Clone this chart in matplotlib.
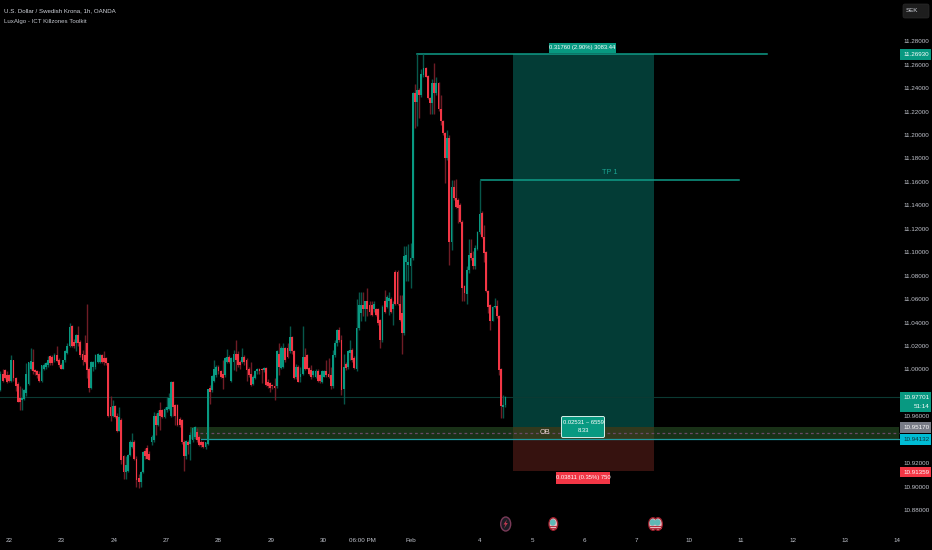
import numpy as np
import matplotlib
matplotlib.use("Agg")
import matplotlib.pyplot as plt
from matplotlib.patches import Rectangle, FancyBboxPatch, Ellipse, Polygon

plt.rcParams['font.family'] = ['Liberation Sans', 'DejaVu Sans']

opens = [10.982,10.996,10.999,10.995,10.995,10.990,11.008,10.992,10.987,10.975,
10.973,10.974,10.979,10.987,11.000,11.006,10.999,10.998,10.996,10.990,
11.000,11.002,11.003,11.011,11.010,11.008,11.012,11.008,11.003,11.000,
11.008,11.014,11.020,11.037,11.023,11.022,11.029,11.023,11.013,11.012,
11.022,11.000,10.984,11.002,11.002,11.006,11.006,11.012,11.009,11.009,
11.005,10.967,10.960,10.968,10.960,10.947,10.956,10.925,10.912,10.913,
10.926,10.933,10.937,10.923,10.907,10.903,10.912,10.930,10.932,10.927,
10.937,10.939,10.960,10.952,10.965,10.965,10.959,10.965,10.966,10.960,
10.989,10.969,10.969,10.957,10.956,10.937,10.925,10.937,10.936,10.939,
10.942,10.946,10.942,10.937,10.937,10.933,10.936,10.984,10.982,10.990,
10.995,11.002,10.998,10.996,10.995,11.006,11.010,10.990,
11.006,11.013,11.013,11.006,11.006,11.010,11.008,11.000,10.996,10.987,
10.992,10.998,11.000,11.000,10.999,11.001,10.989,10.988,10.986,10.985,
10.985,11.013,11.001,11.002,11.018,11.018,11.015,11.027,11.015,10.993,
11.002,10.993,10.996,11.010,11.012,11.001,10.999,10.995,10.993,10.998,
10.995,10.989,10.993,10.998,10.996,10.995,10.985,11.012,11.022,11.033,
11.025,10.983,11.004,11.002,11.014,11.016,11.009,11.000,11.035,11.048,
11.055,11.051,11.058,11.055,11.055,11.051,11.051,11.051,11.042,11.025,
11.058,11.053,11.058,11.060,11.051,11.083,11.083,11.056,11.048,11.031,
11.092,11.089,11.088,
11.095,11.236,11.229,11.239,11.235,11.252,11.258,11.251,11.232,11.228,
11.245,11.236,11.245,11.223,11.212,11.202,11.181,
11.198,11.109,11.156,11.146,11.145,11.140,11.126,11.071,11.064,11.085,
11.099,11.095,11.088,11.103,11.117,11.134,11.113,11.100,11.067,11.055,
11.041,11.053,11.054,11.045,11.000,10.967,10.969]

highs = [10.998,11.000,11.000,10.998,10.996,11.012,11.008,10.993,10.989,10.985,
10.984,10.983,11.005,11.006,11.018,11.017,11.000,10.999,10.998,11.003,
11.005,11.006,11.011,11.012,11.012,11.014,11.020,11.009,11.005,11.008,
11.016,11.022,11.039,11.038,11.026,11.030,11.037,11.025,11.016,11.029,
11.056,11.002,11.007,11.007,11.013,11.014,11.013,11.013,11.015,11.010,
11.005,10.977,10.973,10.969,10.962,10.967,10.958,10.926,10.925,10.927,
10.939,10.945,10.939,10.925,10.910,10.913,10.930,10.932,10.935,10.930,
10.943,10.963,10.962,10.965,10.972,10.966,10.967,10.976,10.979,10.990,
10.990,10.970,10.970,10.959,10.957,10.939,10.939,10.939,10.946,10.950,
10.951,10.949,10.943,10.939,10.938,10.937,10.983,10.986,10.995,11.008,
11.003,11.003,10.999,11.008,11.010,11.017,11.012,11.010,
11.016,11.025,11.015,11.008,11.018,11.012,11.009,11.002,11.006,10.995,
10.999,11.001,11.001,11.001,11.002,11.002,10.991,10.989,10.987,10.992,
11.016,11.022,11.020,11.022,11.019,11.022,11.037,11.028,11.016,11.004,
11.003,11.002,11.037,11.018,11.013,11.002,11.003,10.999,11.000,11.000,
10.996,10.999,10.999,11.008,11.009,11.002,11.016,11.025,11.034,11.036,
11.029,11.013,11.006,11.016,11.025,11.018,11.011,11.060,11.066,11.066,
11.066,11.058,11.069,11.058,11.058,11.058,11.052,11.052,11.043,11.055,
11.068,11.063,11.066,11.062,11.058,11.085,11.085,11.063,11.063,11.105,
11.105,11.107,11.108,
11.237,11.244,11.270,11.241,11.257,11.270,11.259,11.252,11.233,11.248,
11.262,11.250,11.246,11.235,11.213,11.203,11.205,
11.200,11.162,11.162,11.163,11.146,11.142,11.128,11.072,11.088,11.111,
11.111,11.101,11.106,11.118,11.162,11.135,11.123,11.101,11.068,11.056,
11.054,11.061,11.059,11.046,11.001,10.978,10.977]

lows = [10.981,10.989,10.991,10.988,10.989,10.989,10.990,10.981,10.972,10.965,
10.965,10.973,10.977,10.986,10.999,10.996,10.995,10.992,10.989,10.989,
10.999,11.000,11.002,11.003,11.003,11.006,11.006,11.002,11.000,11.000,
11.006,11.013,11.019,11.019,11.018,11.015,11.020,11.010,11.003,11.005,
10.992,10.980,10.983,10.998,11.000,11.005,11.005,11.005,11.003,11.003,
10.959,10.955,10.959,10.958,10.946,10.947,10.919,10.906,10.906,10.912,
10.925,10.932,10.922,10.899,10.898,10.899,10.911,10.923,10.923,10.922,
10.935,10.937,10.943,10.951,10.948,10.958,10.958,10.963,10.965,10.959,
10.960,10.952,10.951,10.950,10.936,10.913,10.923,10.927,10.922,10.937,
10.940,10.937,10.934,10.933,10.932,10.931,10.935,10.970,10.980,10.989,
10.993,10.996,10.992,10.983,10.993,11.005,11.005,10.989,
10.999,10.998,11.002,11.000,11.005,11.003,10.990,10.993,10.985,10.986,
10.991,10.996,10.996,10.988,10.997,10.985,10.984,10.980,10.983,10.973,
10.984,10.995,11.000,11.001,11.006,11.009,11.014,11.013,10.991,10.991,
10.989,10.989,10.995,10.999,11.000,10.995,10.991,10.993,10.992,10.989,
10.988,10.988,10.993,10.993,10.992,10.983,10.984,11.010,11.020,11.023,
10.978,10.970,10.999,11.000,11.008,11.006,11.000,10.998,11.033,11.041,
11.045,11.041,11.045,11.046,11.045,11.049,11.045,11.038,11.018,11.023,
11.048,11.052,11.046,11.048,11.038,11.055,11.055,11.041,11.013,11.029,
11.075,11.075,11.069,
11.093,11.206,11.208,11.215,11.233,11.250,11.250,11.231,11.218,11.218,
11.218,11.235,11.221,11.209,11.200,11.159,11.179,
11.089,11.102,11.145,11.138,11.125,11.125,11.058,11.058,11.056,11.082,
11.093,11.086,11.086,11.102,11.116,11.112,11.092,11.066,11.048,11.033,
11.041,11.052,11.044,10.995,10.958,10.958,10.967]

closes = [10.996,10.990,10.992,10.989,10.990,11.008,10.992,10.985,10.972,10.972,
10.975,10.982,10.996,11.006,11.007,10.998,10.997,10.995,10.990,11.003,
11.003,11.005,11.008,11.005,11.005,11.012,11.007,11.003,11.000,11.008,
11.015,11.020,11.036,11.020,11.020,11.029,11.022,11.012,11.008,11.006,
10.999,10.984,11.006,11.006,11.012,11.013,11.012,11.006,11.006,11.005,
10.960,10.960,10.968,10.959,10.947,10.959,10.922,10.912,10.918,10.926,
10.937,10.937,10.923,10.905,10.903,10.912,10.929,10.925,10.923,10.922,
10.942,10.960,10.952,10.962,10.960,10.959,10.966,10.967,10.975,10.989,
10.967,10.960,10.952,10.952,10.937,10.925,10.938,10.935,10.943,10.949,
10.950,10.939,10.935,10.935,10.933,10.937,10.983,10.980,10.994,11.000,
11.002,10.998,10.993,10.992,11.009,11.010,11.006,11.009,
11.013,11.008,11.003,11.003,11.010,11.006,10.999,10.995,10.986,10.993,
10.998,11.000,10.998,10.999,11.001,10.986,10.985,10.984,10.985,10.984,
11.015,11.002,11.018,11.018,11.008,11.010,11.027,11.015,10.992,11.002,
10.989,10.996,11.010,11.000,11.000,10.996,10.993,10.998,10.998,10.990,
10.990,10.998,10.998,10.995,10.993,10.985,11.012,11.022,11.033,11.025,
10.982,11.002,11.001,11.015,11.016,11.008,11.001,11.035,11.055,11.055,
11.051,11.058,11.051,11.049,11.046,11.056,11.046,11.039,11.025,11.053,
11.049,11.062,11.061,11.049,11.056,11.056,11.056,11.042,11.031,11.097,
11.098,11.092,11.095,
11.236,11.229,11.239,11.235,11.253,11.258,11.250,11.232,11.228,11.245,
11.236,11.245,11.223,11.212,11.202,11.181,11.198,
11.109,11.156,11.146,11.139,11.138,11.126,11.069,11.065,11.085,11.098,
11.095,11.088,11.104,11.117,11.133,11.113,11.099,11.067,11.053,11.041,
11.053,11.054,11.045,10.999,10.968,10.969,10.976]

price_ticks = [11.28,11.26,11.24,11.22,11.20,11.18,11.16,11.14,11.12,11.10,11.08,11.06,
               11.04,11.02,11.00,10.96,10.92,10.90,10.88]
time_labels = ['22','23','24','27','28','29','30','06:00 PM','Feb','4','5','6','7','10','11','12','13','14']
time_slots = [3.9,28.0,52.6,76.7,100.8,125.4,149.4,167.5,190.2,222.2,246.3,270.4,294.5,319.0,343.1,367.2,391.3,415.4]

last_price = 10.97701
sl_price = 10.91359
ob_top = 10.95170
ob_bottom = 10.94132
ob_mid = 10.94650
tp_top = 11.26930
tp_one = 11.16180

BG = '#000000'; UP = '#089981'; DOWN = '#f23645'
UP_W = '#07574b'; DOWN_W = '#6f1c25'

W, H = 932, 550
fig = plt.figure(figsize=(W/100, H/100), dpi=100, facecolor=BG)
ax = fig.add_axes([0, 0, 1, 1], facecolor=BG)
ax.axis('off')
bar_px = 2.158
ax.set_xlim(-0.5/bar_px, (W-0.5)/bar_px)
ppu = 1172.5
ax.set_ylim(11.28-(H-41.7)/ppu, 11.28+41.7/ppu)

def px_x(i): return 0.5 + i*bar_px
def px_y(v): return 41.7 + (11.28-v)*ppu
def idx(px): return (px-0.5)/bar_px

# readings were taken on a slightly different pixel scale
def cal(a): return 11.28-0.0003-(11.28-np.asarray(a, float))*0.9957

o, h, l, c = cal(opens), cal(highs), cal(lows), cal(closes)
n = np.arange(len(o))
up = c >= o

# zones
ax.add_patch(Rectangle((idx(513), ob_top), idx(654)-idx(513), tp_top-ob_top, fc='#033c36', ec='none', zorder=1))
ax.add_patch(Rectangle((idx(513), sl_price), idx(654)-idx(513), ob_top-sl_price, fc='#36120f', ec='none', zorder=1))
ax.add_patch(Rectangle((idx(190), ob_bottom), idx(899)-idx(190), ob_top-ob_bottom, fc='#2f5a2a', ec='none', alpha=0.55, zorder=2))
ax.plot([idx(200), idx(899)], [ob_mid, ob_mid], color='#6b4a68', lw=0.9, ls=(0, (2.2, 2.2)), zorder=3)
ax.plot([idx(201), idx(899)], [ob_bottom, ob_bottom], color='#1f9aa0', lw=0.9, zorder=3)
ax.plot([0, idx(899)], [last_price, last_price], color='#0b3a33', lw=0.8, zorder=2)
ax.plot([idx(417), idx(767)], [tp_top, tp_top], color='#0f9c88', lw=1.1, zorder=3)
ax.plot([idx(481), idx(739)], [tp_one, tp_one], color='#0f9c88', lw=1.1, zorder=3)

# candles
ax.vlines(n[up], l[up], h[up], color=UP_W, lw=1.0, zorder=4)
ax.vlines(n[~up], l[~up], h[~up], color=DOWN_W, lw=1.0, zorder=4)
ax.bar(n[up], (c-o)[up], bottom=o[up], width=0.85, color=UP, lw=0, zorder=5)
ax.bar(n[~up], (c-o)[~up], bottom=o[~up], width=0.85, color=DOWN, lw=0, zorder=5)

# overlay in pixels for labels and icons
ov = fig.add_axes([0, 0, 1, 1], facecolor='none')
ov.axis('off'); ov.set_xlim(0, W); ov.set_ylim(H, 0)
FS = 4.5
TXT = '#c2c5ce'

ov.text(4, 10.5, 'U.S. Dollar / Swedish Krona, 1h, OANDA', color='#d1d4dc', fontsize=4.4, va='center')
ov.text(4, 21.5, 'LuxAlgo - ICT Killzones Toolkit', color='#c4c7cf', fontsize=4.4, va='center')

ov.add_patch(FancyBboxPatch((903, 4), 26, 14, boxstyle='round,pad=0,rounding_size=2', fc='#1e1e1e', ec='#2a2a2a', lw=0.5))
ov.text(906, 11, 'SEK', color='#d1d4dc', fontsize=FS, va='center')

for v in price_ticks:
    ov.text(929.5, px_y(v), f'{v:.5f}', color=TXT, fontsize=FS, va='center', ha='right')
for s, t in zip(time_slots, time_labels):
    ov.text(px_x(s), 540, t, color=TXT, fontsize=FS, va='center', ha='center')

def price_box(y0, y1, fc, lines, tc='white'):
    ov.add_patch(Rectangle((900, y0), 31, y1-y0, fc=fc, ec='none', zorder=6))
    ys = [y0+5.5, y0+14.5] if len(lines) > 1 else [(y0+y1)/2]
    for yy, tx in zip(ys, lines):
        ov.text(929.5, yy, tx, color=tc, fontsize=FS, va='center', ha='right', zorder=7)

price_box(49, 60, UP, [f'{tp_top:.5f}'])
price_box(392, 412, UP, [f'{last_price:.5f}', '51:14'])
price_box(422, 433, '#787b86', [f'{ob_top:.5f}'])
price_box(434, 445, '#00bcd4', [f'{ob_bottom:.5f}'], tc='#10323a')
price_box(467, 477, DOWN, [f'{sl_price:.5f}'])

# position tool labels
ov.add_patch(Rectangle((549, 43), 67, 10, fc=UP, ec='none', zorder=6))
ov.text(582.5, 48, '0.31760 (2.90%) 3083.44', color='white', fontsize=4.2, ha='center', va='center', zorder=7)
ov.add_patch(FancyBboxPatch((561.5, 416.5), 43, 21, boxstyle='round,pad=0,rounding_size=1.5', fc=UP, ec='#d6efe9', lw=0.7, zorder=6))
ov.text(583, 422.5, '0.02531 ~ 6559', color='white', fontsize=4.2, ha='center', va='center', zorder=7)
ov.text(583, 431, '8.33', color='white', fontsize=4.2, ha='center', va='center', zorder=7)
ov.add_patch(Rectangle((556, 472), 54, 12, fc=DOWN, ec='none', zorder=6))
ov.text(583, 478, '0.03811 (0.35%) 750', color='white', fontsize=4.2, ha='center', va='center', zorder=7)
ov.text(610, 173, 'TP 1', color='#1aa391', fontsize=FS+0.8, ha='center', va='center')
ov.text(545, 432.5, 'OB', color='#efd5d5', fontsize=FS+0.8, ha='center', va='center', zorder=7)

# economic event icons
def flag(x, y=524):
    ov.add_patch(Ellipse((x, y), 10, 14, fc='#9c1f2c', ec='none', zorder=6))
    ov.add_patch(Ellipse((x, y), 7.4, 11, fc='#e9b9c0', ec='none', zorder=7))
    ov.add_patch(Ellipse((x-0.5, y-1.5), 6, 6.5, fc='#5fb8b6', ec='none', zorder=8))
    ov.plot([x-3, x+3], [y+2, y+2], color='#b5303f', lw=0.7, zorder=9)
    ov.plot([x-2.5, x+2.5], [y+3.8, y+3.8], color='#b5303f', lw=0.7, zorder=9)

ov.add_patch(Ellipse((505.7, 524), 10, 14, fc='#1c1c24', ec='#7a3a58', lw=1, zorder=6))
ov.add_patch(Polygon([(507, 519.5), (503.5, 524.5), (505.5, 524.5), (504, 528.5), (507.8, 523), (505.8, 523)],
                     fc='#c23a52', ec='none', zorder=7))
flag(658); flag(653); flag(553.3)

fig.savefig('out.png', dpi=100, facecolor=BG)
